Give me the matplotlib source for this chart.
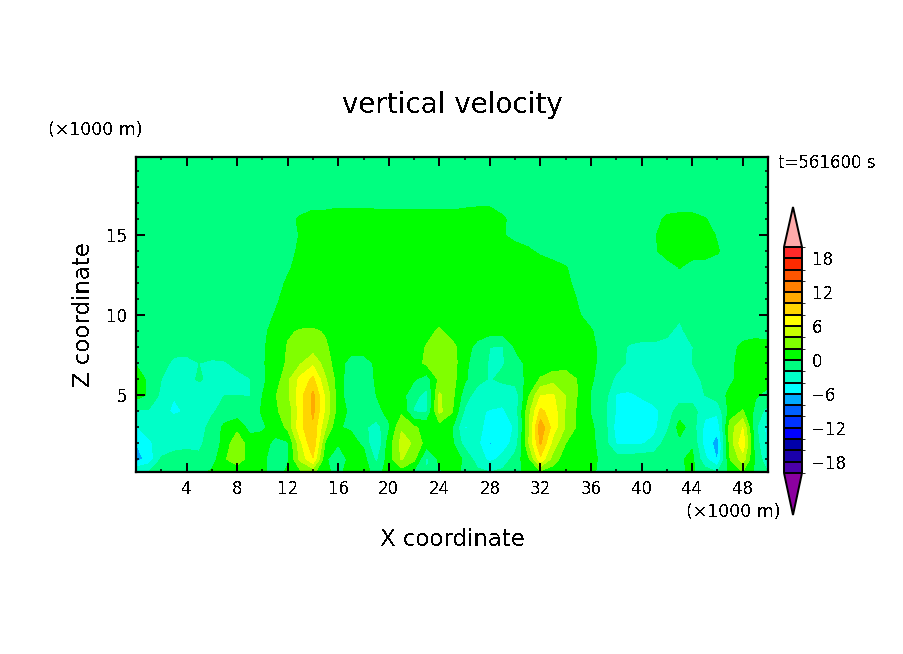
import numpy as np
import matplotlib
matplotlib.use('Agg')
import matplotlib.pyplot as plt
from matplotlib.colors import ListedColormap, BoundaryNorm
from matplotlib.ticker import MultipleLocator

plt.rcParams['text.antialiased'] = False

# x every 1 km, values per height
x_km = np.arange(0, 51)
z_km = [0.2, 1, 2, 3, 4, 5, 6, 7, 8, 9, 10, 11, 12, 13, 14, 15, 16, 17, 18, 19.9]

w = [
 # z=0.2
 [-2,-2,-1.5,-1,-0.8,-0.5,0.3,0.8,0.8,0.5,
  0.2,-0.5,0.2,1.5,2.5,0.2,-0.3,0.5,0.5,-0.5,
  0.5,1,-0.5,-2,-0.2,0.5,-0.3,-1.5,-2,-1.5,
  -0.5,0.5,1.5,1,0.5,0.5,0.3,-0.5,-0.5,-0.5,
  -0.5,-0.5,-0.5,-0.3,0.3,-1,-2,0.5,2,-0.3,-2],
 # z=1
 [-7,-5.2,-1.8,-1.2,-1.2,-1.8,-1,1.8,3,1.2,
  0.2,-0.5,-0.2,4.5,7.8,0.3,-1.5,0.8,0.8,-2.5,
  1,4.2,2.5,-2.5,0.5,1,-0.3,-3,-4.5,-3.5,
  -1,1.2,7.5,3,0.8,1,0.5,-0.5,-1,-1,
  -0.8,-0.8,-0.8,-0.3,0.5,-3.5,-6.2,2,5,-0.5,-3.5],
 # z=2
 [-6,-4.5,-3,-2.8,-2.5,-2.2,-1.5,0.8,3.4,1,
  0.8,-0.5,-0.3,5.5,9.8,1.5,0.2,0.6,-0.3,-4.3,
  1,4.6,3.8,1,0.8,0.3,-2.8,-3.5,-6.2,-4.8,
  -3.4,3.5,10.3,5.2,2,1,0.5,-1,-4.2,-4.3,
  -4.2,-3.5,-1,-0.5,-0.3,-4.8,-6.8,2.8,7.5,-1,-4.5],
 # z=3
 [-4.2,-3,-3,-3,-3,-2.6,-1.5,0.5,1.4,-0.7,
  -0.3,0.8,2.4,7.5,9.5,4.2,0.1,-0.2,-1.5,-3,
  -0.3,3.8,2.2,1.5,1,0.2,-4.2,-3.5,-4.7,-5,
  -3.8,3,11.5,7,3.8,1.5,0.3,-1,-4.8,-5,
  -5,-4.5,-2.5,0.8,-1,-4.5,-5.5,3,6,-1.5,-5],
 # z=4
 [-2.2,-2.2,-3.5,-4.3,-3.8,-2.6,-2.2,-1.5,-1.2,-1,
  0.2,1.8,2.5,7,10.5,5.5,1,-0.5,-1.5,-0.5,
  0.5,1.5,-2.2,-2.2,4.5,2.2,-2.3,-3.8,-4.1,-4.2,
  -3.3,3,8.5,7,3.8,1.5,-0.1,-1.5,-4.2,-4.6,
  -4.8,-4.6,-3,-1,-1,-3.5,-3.5,0.8,2.2,-0.5,-3],
 # z=5
 [0.8,-0.3,-2.5,-3.9,-3.8,-3,-2.2,-2,-2,-2.1,
  0,1.8,3.6,7.2,10.5,5.5,1,-1.5,-1.7,0,
  0.5,0.8,-1.5,-2.6,4.3,2.6,-1,-3,-3.2,-3.5,
  -3.2,1.5,5.9,6.2,3.9,1.8,-0.1,-1,-4.2,-4.3,
  -3.8,-3,-3,-3,-3,-2,-1,0.5,0.5,0.2,-0.5],
 # z=6
 [0.8,-0.3,-2,-2.9,-2.5,-1.8,-2.5,-2.8,-2.6,-2.1,
  -0.3,0.8,3.5,6.6,8.5,4.2,1,-1.3,-1.5,0.3,
  0.6,0.6,0.2,-1,2.5,2.8,0.3,-1.3,-2.2,-1.5,
  -1.2,0.5,2.2,3.3,3.5,1.8,0.2,-0.8,-2.4,-3,
  -3,-3,-3,-3,-3,-1.5,-0.8,-0.4,0.8,0.8,0.6],
 # z=7
 [-0.1,-0.8,-1.5,-2.3,-2.4,-2,-2.3,-2.2,-1.5,-1,
  -0.1,0.4,2.4,3.8,5.5,3,0.8,-0.8,-0.8,0.3,
  0.6,0.6,1.2,2.4,2.1,3,0.5,-1.1,-2.2,-2.2,
  -0.7,0.4,0.7,0.7,0.7,0.6,0.2,-0.3,-1.3,-2.3,
  -2.5,-2.6,-2.7,-2.6,-2,-0.8,-0.6,-0.3,0.5,0.8,0.6],
 # z=8
 [-1,-0.9,-0.9,-1.5,-1.5,-1.2,-1,-0.8,-0.7,-0.6,
  -0.1,0.3,2.2,3,3,2.3,0.8,0.8,0.8,0.8,
  0.8,0.8,0.8,2.2,2.8,2.8,0.7,-0.5,-2,-2.2,
  0.2,0.7,0.7,0.7,0.7,0.6,0.2,-0.3,-0.8,-2.3,
  -2.7,-2.6,-2.6,-3,-2.1,-0.8,-0.6,-0.4,0.3,0.6,0.4],
 # z=9
 [-0.8,-0.8,-0.8,-0.8,-0.8,-0.8,-0.8,-0.8,-0.8,-0.8,
  -0.2,0.3,1.7,2.2,2.3,1.8,0.8,0.7,0.7,0.7,
  0.7,0.7,0.7,1.2,2.4,1,0.8,0.7,0.7,0.7,
  0.7,0.7,0.7,0.7,0.7,0.7,0.1,-0.5,-0.7,-0.7,
  -0.7,-0.8,-1.6,-2.6,-0.9,-0.5,-0.5,-0.5,-0.5,-0.5,-0.5],
 # z=10
 [-0.6,-0.6,-0.6,-0.6,-0.6,-0.6,-0.6,-0.6,-0.6,-0.6,
  -0.6,0.1,0.7,0.7,0.7,0.7,0.7,0.7,0.7,0.7,
  0.7,0.7,0.7,0.7,0.7,0.7,0.7,0.7,0.7,0.7,
  0.7,0.7,0.7,0.7,0.7,0.1,-0.4,-0.5,-0.5,-0.5,
  -0.5,-0.5,-0.5,-1.6,-0.5,-0.5,-0.5,-0.5,-0.5,-0.5,-0.5],
 # z=11
 [-0.6,-0.6,-0.6,-0.6,-0.6,-0.6,-0.6,-0.6,-0.6,-0.6,
  -0.6,-0.3,0.6,0.7,0.7,0.7,0.7,0.7,0.7,0.7,
  0.7,0.7,0.7,0.7,0.7,0.7,0.7,0.7,0.7,0.7,
  0.7,0.7,0.7,0.7,0.6,-0.1,-0.5,-0.5,-0.5,-0.5,
  -0.5,-0.5,-0.5,-0.5,-0.5,-0.5,-0.5,-0.5,-0.5,-0.5,-0.5],
 # z=12
 [-0.6,-0.6,-0.6,-0.6,-0.6,-0.6,-0.6,-0.6,-0.6,-0.6,
  -0.6,-0.5,0.2,0.7,0.7,0.7,0.7,0.7,0.7,0.7,
  0.7,0.7,0.7,0.7,0.7,0.7,0.7,0.7,0.7,0.7,
  0.7,0.7,0.7,0.7,0.3,-0.4,-0.5,-0.5,-0.5,-0.5,
  -0.5,-0.5,-0.5,-0.5,-0.5,-0.5,-0.5,-0.5,-0.5,-0.5,-0.5],
 # z=13
 [-0.6,-0.6,-0.6,-0.6,-0.6,-0.6,-0.6,-0.6,-0.6,-0.6,
  -0.6,-0.6,-0.2,0.5,0.7,0.7,0.7,0.7,0.7,0.7,
  0.7,0.7,0.7,0.7,0.7,0.7,0.7,0.7,0.7,0.7,
  0.7,0.7,0.6,0.4,0.05,-0.4,-0.5,-0.5,-0.5,-0.5,
  -0.5,-0.5,-0.5,0.05,-0.5,-0.5,-0.5,-0.5,-0.5,-0.5,-0.5],
 # z=14
 [-0.6,-0.6,-0.6,-0.6,-0.6,-0.6,-0.6,-0.6,-0.6,-0.6,
  -0.6,-0.6,-0.5,0.3,0.7,0.7,0.7,0.7,0.7,0.7,
  0.7,0.7,0.7,0.7,0.7,0.7,0.7,0.7,0.7,0.7,
  0.6,0.2,-0.2,-0.5,-0.5,-0.5,-0.5,-0.5,-0.5,-0.5,
  -0.5,-0.2,0.5,0.6,0.6,0.5,0.1,-0.5,-0.5,-0.5,-0.5],
 # z=15
 [-0.6,-0.6,-0.6,-0.6,-0.6,-0.6,-0.6,-0.6,-0.6,-0.6,
  -0.6,-0.6,-0.6,0.1,0.7,0.7,0.7,0.7,0.7,0.7,
  0.7,0.7,0.7,0.7,0.7,0.7,0.7,0.7,0.5,0.1,
  -0.4,-0.5,-0.5,-0.5,-0.5,-0.5,-0.5,-0.5,-0.5,-0.5,
  -0.5,-0.1,0.5,0.6,0.6,0.5,-0.1,-0.5,-0.5,-0.5,-0.5],
 # z=16
 [-0.6,-0.6,-0.6,-0.6,-0.6,-0.6,-0.6,-0.6,-0.6,-0.6,
  -0.6,-0.6,-0.4,0.2,0.7,0.7,0.7,0.7,0.7,0.7,
  0.7,0.7,0.7,0.7,0.7,0.7,0.7,0.7,0.7,0.2,
  -0.5,-0.5,-0.5,-0.5,-0.5,-0.5,-0.5,-0.5,-0.5,-0.5,
  -0.5,-0.5,0.3,0.5,0.5,0.1,-0.5,-0.5,-0.5,-0.5,-0.5],
 # z=17
 [-0.6,-0.6,-0.6,-0.6,-0.6,-0.6,-0.6,-0.6,-0.6,-0.6,
  -0.6,-0.6,-0.6,-0.6,-0.5,-0.5,-0.3,-0.3,-0.3,-0.4,
  -0.4,-0.4,-0.4,-0.4,-0.4,-0.5,-0.3,-0.2,-0.2,-0.5,
  -0.5,-0.5,-0.5,-0.5,-0.5,-0.5,-0.5,-0.5,-0.5,-0.5,
  -0.5,-0.5,-0.7,-0.7,-0.7,-0.7,-0.5,-0.5,-0.5,-0.5,-0.5],
 # z=18
 [-0.6,-0.6,-0.6,-0.6,-0.6,-0.6,-0.6,-0.6,-0.6,-0.6,
  -0.6,-0.6,-0.6,-0.6,-0.6,-0.6,-0.6,-0.6,-0.6,-0.6,
  -0.6,-0.6,-0.6,-0.6,-0.6,-0.6,-0.6,-0.6,-0.6,-0.6,
  -0.6,-0.6,-0.6,-0.6,-0.6,-0.6,-0.6,-0.6,-0.6,-0.6,
  -0.6,-0.6,-0.6,-0.6,-0.6,-0.6,-0.6,-0.6,-0.6,-0.6,-0.6],
 # z=19.9
 [-0.6,-0.6,-0.6,-0.6,-0.6,-0.6,-0.6,-0.6,-0.6,-0.6,
  -0.6,-0.6,-0.6,-0.6,-0.6,-0.6,-0.6,-0.6,-0.6,-0.6,
  -0.6,-0.6,-0.6,-0.6,-0.6,-0.6,-0.6,-0.6,-0.6,-0.6,
  -0.6,-0.6,-0.6,-0.6,-0.6,-0.6,-0.6,-0.6,-0.6,-0.6,
  -0.6,-0.6,-0.6,-0.6,-0.6,-0.6,-0.6,-0.6,-0.6,-0.6,-0.6],
]

levels = np.arange(-20, 21, 2)
band_colors = ['#4b00aa', '#1a00aa', '#0000aa', '#0000ff', '#0033ff',
               '#0060ff', '#00aaff', '#00ffff', '#00ffc8', '#00ff80',
               '#00ff00', '#80ff00', '#c8ff00', '#ffff00', '#ffd500',
               '#ffaa00', '#ff8000', '#ff5500', '#ff2a00', '#ff2a2a']
under_color = '#8b00a0'
over_color = '#ffaaaa'

W, H = 904, 654


def px_box(left, top, right, bottom):
    return [left / W, 1 - bottom / H, (right - left) / W, (bottom - top) / H]


cmap = ListedColormap(band_colors)
cmap.set_under(under_color)
cmap.set_over(over_color)
norm = BoundaryNorm(levels, cmap.N)

fig = plt.figure(figsize=(W / 100, H / 100), dpi=100)
ax = fig.add_axes(px_box(136, 157, 768, 472))
cf = ax.contourf(x_km, z_km, np.array(w), levels=levels, cmap=cmap, norm=norm, extend='both')

ax.set_xlim(0, 50)
ax.set_ylim(0.2, 19.9)
ax.set_xticks(np.arange(4, 50, 4))
ax.xaxis.set_minor_locator(MultipleLocator(2))
ax.yaxis.set_major_locator(MultipleLocator(5))
ax.yaxis.set_minor_locator(MultipleLocator(1))
ax.tick_params(which='major', direction='in', top=True, right=True, length=6.5, width=1.4, labelsize=12, pad=6)
ax.tick_params(which='minor', direction='in', top=True, right=True, length=2.5, width=1.1)
for s in ax.spines.values():
    s.set_linewidth(1.6)

fig.text(452 / W, 1 - 105 / H, 'vertical velocity', fontsize=20, ha='center', va='center')
fig.text(452 / W, 1 - 540 / H, 'X coordinate', fontsize=16.5, ha='center', va='center')
fig.text(83 / W, 1 - 315 / H, 'Z coordinate', fontsize=16.5, rotation=90, ha='center', va='center')
fig.text(95 / W, 1 - 130 / H, '(×1000 m)', fontsize=12.5, ha='center', va='center')
fig.text(733 / W, 1 - 512 / H, '(×1000 m)', fontsize=12.5, ha='center', va='center')
fig.text(827 / W, 1 - 163 / H, 't=561600 s', fontsize=12, ha='center', va='center')

# box holds the bar plus both arrows
cax = fig.add_axes(px_box(784, 207, 802, 515))
cb = fig.colorbar(cf, cax=cax, extend='both', extendfrac=[0.186, 0.177], drawedges=True, ticks=np.arange(-18, 19, 6))
cb.dividers.set_color('k')
cb.dividers.set_linewidth(1.4)
cb.outline.set_linewidth(1.4)
cb.ax.tick_params(length=0, labelsize=12, pad=7)

fig.savefig('out.png', dpi=100)
